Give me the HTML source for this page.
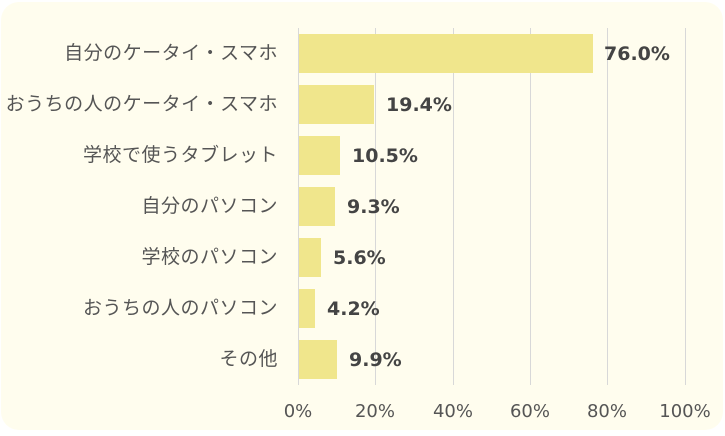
<!DOCTYPE html>
<html><head><meta charset="utf-8"><style>
body{margin:0;width:725px;height:436px;background:#fff;overflow:hidden;font-family:"DejaVu Sans","Noto Sans CJK JP",sans-serif;}
.card{position:absolute;left:1px;top:2px;width:722px;height:428px;background:#fffdee;border-radius:18px;}
.g{position:absolute;top:28px;height:357px;width:1px;background:#d8d8d8;}
.bar{position:absolute;left:299px;height:39px;background:#f0e68c;}
.cat{position:absolute;right:447px;font-size:19px;letter-spacing:0.5px;color:#555;white-space:nowrap;line-height:22px;font-family:"Noto Sans CJK JP",sans-serif;}
.val{position:absolute;font-size:19px;font-weight:bold;color:#444;line-height:22px;}
.ax{position:absolute;top:401px;font-size:18px;color:#555;width:70px;text-align:center;}
</style></head><body><div class="card"></div>
<div class="g" style="left:298px"></div><div class="g" style="left:375px"></div><div class="g" style="left:453px"></div><div class="g" style="left:530px"></div><div class="g" style="left:607px"></div><div class="g" style="left:685px"></div>
<div class="bar" style="top:34px;width:294px"></div><div class="cat" style="top:41px">自分のケータイ・スマホ</div><div class="val" style="left:604px;top:43px">76.0%</div>
<div class="bar" style="top:85px;width:75px"></div><div class="cat" style="top:92px">おうちの人のケータイ・スマホ</div><div class="val" style="left:386px;top:94px">19.4%</div>
<div class="bar" style="top:136px;width:41px"></div><div class="cat" style="top:143px">学校で使うタブレット</div><div class="val" style="left:352px;top:145px">10.5%</div>
<div class="bar" style="top:187px;width:36px"></div><div class="cat" style="top:194px">自分のパソコン</div><div class="val" style="left:347px;top:196px">9.3%</div>
<div class="bar" style="top:238px;width:22px"></div><div class="cat" style="top:245px">学校のパソコン</div><div class="val" style="left:333px;top:247px">5.6%</div>
<div class="bar" style="top:289px;width:16px"></div><div class="cat" style="top:296px">おうちの人のパソコン</div><div class="val" style="left:327px;top:298px">4.2%</div>
<div class="bar" style="top:340px;width:38px"></div><div class="cat" style="top:347px">その他</div><div class="val" style="left:349px;top:349px">9.9%</div>
<div class="ax" style="left:263px">0%</div><div class="ax" style="left:340px">20%</div><div class="ax" style="left:418px">40%</div><div class="ax" style="left:495px">60%</div><div class="ax" style="left:572px">80%</div><div class="ax" style="left:650px">100%</div>
</body></html>
